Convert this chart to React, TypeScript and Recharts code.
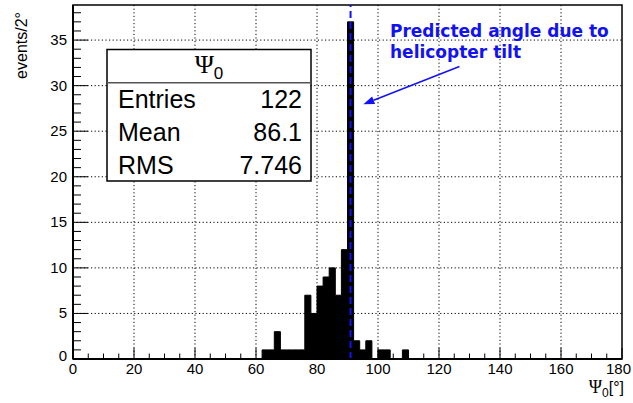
import { ComposedChart, Area, XAxis, YAxis, ReferenceLine, ReferenceArea } from "recharts";

// histogram of Psi_0, 2 degree bins (lower edge of each bin)
const binStart = [60, 62, 64, 66, 68, 70, 72, 74, 76, 78, 80, 82, 84, 86, 88, 90, 92, 94, 96, 98, 100, 102, 104, 106, 108, 110];
const counts = [0, 1, 1, 3, 1, 1, 1, 1, 7, 5, 8, 9, 10, 7, 12, 37, 2, 1, 2, 0, 1, 1, 0, 0, 1, 0];

const xRange = [0, 180];
const yRange = [0, 38.85];
const xMajorTicks = [0, 20, 40, 60, 80, 100, 120, 140, 160, 180];
const yMajorTicks = [0, 5, 10, 15, 20, 25, 30, 35];
const xTicks = Array.from({ length: 37 }, (_, i) => i * 5);
const yTicks = Array.from({ length: 39 }, (_, i) => i);

const predictedAngle = 91;
const arrowFrom = { x: 126.7, y: 32.1 };
const arrowTo = { x: 95.2, y: 27.95 };

const statsTitle = "Ψ";
const statsRows = [
  ["Entries", "122"],
  ["Mean", "86.1"],
  ["RMS", "7.746"],
];

const table = [
  { x: xRange[0], n: 0 },
  ...binStart.map((b, i) => ({ x: b, n: counts[i] })),
  { x: xRange[1], n: 0 },
];

const SANS = "'Liberation Sans', Arial, sans-serif";
const SERIF = "'Liberation Serif', 'Times New Roman', serif";
const BLUE = "#1212f2";

const XTick = (props: any) => {
  const { x, y, payload } = props;
  const major = xMajorTicks.includes(payload.value);
  const last = payload.value === xRange[1];
  return (
    <g>
      <line x1={x} y1={y} x2={x} y2={y - (major ? 11 : 5.5)} stroke="#000" strokeWidth={1} />
      {major && (
        <text
          x={last ? x + 9 : x}
          y={y + 15}
          textAnchor={last ? "end" : "middle"}
          fontFamily={SANS}
          fontSize={15}
          fill="#000"
        >
          {payload.value}
        </text>
      )}
    </g>
  );
};

const YTick = (props: any) => {
  const { x, y, payload } = props;
  const major = yMajorTicks.includes(payload.value);
  return (
    <g>
      <line x1={x} y1={y} x2={x + (major ? 15 : 8)} y2={y} stroke="#000" strokeWidth={1} />
      {major && (
        <text
          x={x - 6}
          y={payload.value === 0 ? y + 2 : y + 5}
          textAnchor="end"
          fontFamily={SANS}
          fontSize={15}
          fill="#000"
        >
          {payload.value}
        </text>
      )}
    </g>
  );
};

const ArrowShape = (props: any) => {
  const { x1, y1, x2, y2 } = props;
  const dx = x2 - x1;
  const dy = y2 - y1;
  const len = Math.sqrt(dx * dx + dy * dy);
  const ux = dx / len;
  const uy = dy / len;
  const hl = 11;
  const hw = 4;
  const bx = x2 - ux * hl;
  const by = y2 - uy * hl;
  return (
    <g>
      <line x1={x1} y1={y1} x2={bx} y2={by} stroke={BLUE} strokeWidth={1.5} />
      <polygon
        points={`${x2},${y2} ${bx - uy * hw},${by + ux * hw} ${bx + uy * hw},${by - ux * hw}`}
        fill={BLUE}
      />
    </g>
  );
};

export default function App() {
  return (
    <div style={{ position: "absolute", left: 0, top: 0, width: 633, height: 403, background: "#fff" }}>
      <ComposedChart
        width={633}
        height={403}
        data={table}
        margin={{ top: 5, right: 11, bottom: 4, left: 13 }}
      >
        <XAxis
          type="number"
          dataKey="x"
          domain={xRange}
          ticks={xTicks}
          interval={0}
          allowDataOverflow
          height={40}
          tickSize={0}
          tickMargin={0}
          tickLine={false}
          axisLine={{ stroke: "#000", strokeWidth: 2 }}
          tick={<XTick />}
          label={{
            content: () => (
              <text x={624} y={393} textAnchor="end" fill="#000" fontSize={16} fontFamily={SANS}>
                <tspan fontFamily={SERIF} fontSize={18}>Ψ</tspan>
                <tspan dy={4} fontSize={12}>0</tspan>
                <tspan dy={-4}>[°]</tspan>
              </text>
            ),
          }}
        />
        <YAxis
          type="number"
          domain={yRange}
          ticks={yTicks}
          interval={0}
          allowDataOverflow
          width={60}
          tickSize={0}
          tickMargin={0}
          tickLine={false}
          axisLine={{ stroke: "#000", strokeWidth: 2 }}
          tick={<YTick />}
          label={{
            content: () => (
              <text
                x={27}
                y={12}
                transform="rotate(-90 27 12)"
                textAnchor="end"
                fill="#000"
                fontSize={16}
                fontFamily={SANS}
              >
                events/2°
              </text>
            ),
          }}
        />
        {xMajorTicks.slice(1, -1).map((v) => (
          <ReferenceLine key={"gx" + v} x={v} stroke="#000" strokeWidth={1} strokeDasharray="1.2 2.4" />
        ))}
        {yMajorTicks.slice(1).map((v) => (
          <ReferenceLine key={"gy" + v} y={v} stroke="#000" strokeWidth={1} strokeDasharray="1.2 2.4" />
        ))}
        <Area
          type="stepAfter"
          dataKey="n"
          stroke="#000"
          strokeWidth={1}
          fill="#000"
          fillOpacity={1}
          isAnimationActive={false}
          dot={false}
          activeDot={false}
        />
        <ReferenceLine x={predictedAngle} stroke={BLUE} strokeWidth={2} strokeDasharray="7 4" />
        <ReferenceArea
          x1={xRange[0]}
          x2={xRange[1]}
          y1={yRange[0]}
          y2={yRange[1]}
          fill="none"
          fillOpacity={0}
          stroke="#000"
          strokeWidth={1.5}
          strokeOpacity={1}
        />
        <ReferenceLine segment={[arrowFrom, arrowTo]} shape={<ArrowShape />} />
      </ComposedChart>

      <svg
        width={633}
        height={403}
        style={{ position: "absolute", left: 0, top: 0, pointerEvents: "none" }}
      >
        <rect x={107} y={49.5} width={204} height={131.5} fill="#fff" stroke="#000" strokeWidth={1.5} />
        <line x1={107} y1={82.7} x2={311} y2={82.7} stroke="#555" strokeWidth={1.5} />
        <text x={209} y={73} textAnchor="middle" fill="#000" fontFamily={SERIF} fontSize={26}>
          {statsTitle}
          <tspan fontFamily={SANS} fontSize={17} dy={6}>0</tspan>
        </text>
        {statsRows.map(([name, value], i) => (
          <g key={name}>
            <text x={118} y={108 + i * 33} fill="#000" fontFamily={SANS} fontSize={25}>
              {name}
            </text>
            <text x={302} y={108 + i * 33} textAnchor="end" fill="#000" fontFamily={SANS} fontSize={25}>
              {value}
            </text>
          </g>
        ))}
        <text x={390} y={37.3} fill={BLUE} fontFamily="'DejaVu Sans', sans-serif" fontWeight="bold" fontSize={17}>
          Predicted angle due to
        </text>
        <text x={390} y={58.3} fill={BLUE} fontFamily="'DejaVu Sans', sans-serif" fontWeight="bold" fontSize={17}>
          helicopter tilt
        </text>
      </svg>
    </div>
  );
}
